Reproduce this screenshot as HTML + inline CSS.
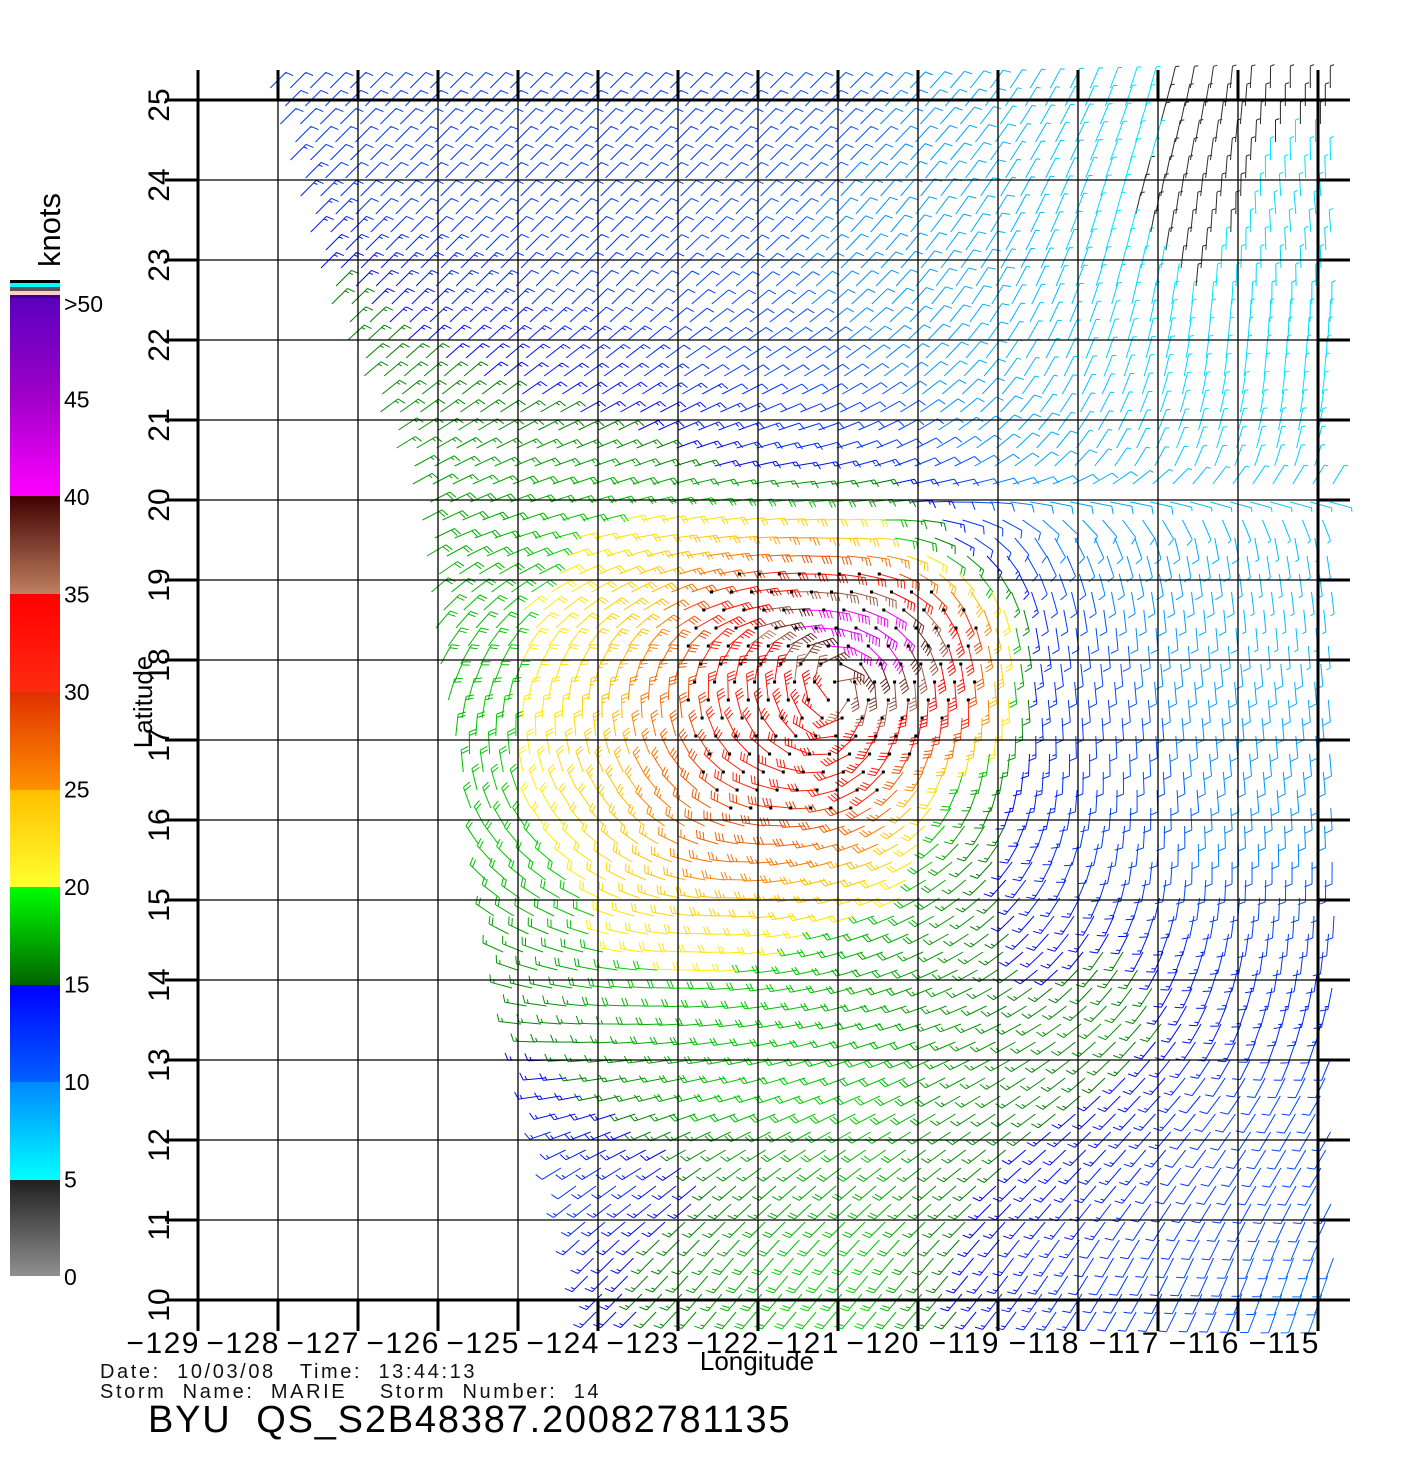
<!DOCTYPE html>
<html><head><meta charset="utf-8"><style>
html,body{margin:0;padding:0;background:#fff;}
svg{display:block;font-family:"Liberation Sans",sans-serif;}
.pre{white-space:pre;}
</style></head><body>
<svg id="chart" width="1420" height="1480" viewBox="0 0 1420 1480" xmlns="http://www.w3.org/2000/svg">
<defs>
<linearGradient id="g0" x1="0" y1="0" x2="0" y2="1"><stop offset="0" stop-color="#202020"/><stop offset="1" stop-color="#909090"/></linearGradient>
<linearGradient id="g5" x1="0" y1="0" x2="0" y2="1"><stop offset="0" stop-color="#0088ff"/><stop offset="1" stop-color="#00ffff"/></linearGradient>
<linearGradient id="g10" x1="0" y1="0" x2="0" y2="1"><stop offset="0" stop-color="#0000ff"/><stop offset="1" stop-color="#0060ff"/></linearGradient>
<linearGradient id="g15" x1="0" y1="0" x2="0" y2="1"><stop offset="0" stop-color="#00ff00"/><stop offset="1" stop-color="#006400"/></linearGradient>
<linearGradient id="g20" x1="0" y1="0" x2="0" y2="1"><stop offset="0" stop-color="#ffbf00"/><stop offset="1" stop-color="#ffff30"/></linearGradient>
<linearGradient id="g25" x1="0" y1="0" x2="0" y2="1"><stop offset="0" stop-color="#e03000"/><stop offset="1" stop-color="#ff9000"/></linearGradient>
<linearGradient id="g30" x1="0" y1="0" x2="0" y2="1"><stop offset="0" stop-color="#ff0000"/><stop offset="1" stop-color="#ff2a10"/></linearGradient>
<linearGradient id="g35" x1="0" y1="0" x2="0" y2="1"><stop offset="0" stop-color="#400000"/><stop offset="1" stop-color="#c08060"/></linearGradient>
<linearGradient id="g40" x1="0" y1="0" x2="0" y2="1"><stop offset="0" stop-color="#5a00c0"/><stop offset="0.5" stop-color="#a000c8"/><stop offset="1" stop-color="#ff00ff"/></linearGradient>
</defs>
<g id="barbs"></g>
<g id="grid"></g>
<g id="cbar">
<rect x="10" y="280" width="50" height="3" fill="#000"/>
<rect x="10" y="283" width="50" height="4" fill="#00ffff"/>
<rect x="10" y="287" width="50" height="4" fill="#555"/>
<rect x="10" y="291" width="50" height="4" fill="#ffcccc"/>
<rect x="10" y="295" width="50" height="3" fill="#400080"/>
<rect x="10" y="298" width="50" height="198" fill="url(#g40)"/>
<rect x="10" y="496" width="50" height="98" fill="url(#g35)"/>
<rect x="10" y="594" width="50" height="98" fill="url(#g30)"/>
<rect x="10" y="692" width="50" height="98" fill="url(#g25)"/>
<rect x="10" y="790" width="50" height="97" fill="url(#g20)"/>
<rect x="10" y="887" width="50" height="98" fill="url(#g15)"/>
<rect x="10" y="985" width="50" height="97" fill="url(#g10)"/>
<rect x="10" y="1082" width="50" height="98" fill="url(#g5)"/>
<rect x="10" y="1180" width="50" height="96" fill="url(#g0)"/>
<text transform="translate(60,230) rotate(-90)" text-anchor="middle" font-size="31">knots</text>
</g>
<g id="cbl" font-size="23"></g>
<g id="labels">
<text x="757" y="1370" font-size="26" text-anchor="middle">Longitude</text>
<text transform="translate(152,702) rotate(-90)" font-size="26" text-anchor="middle">Latitude</text>
<text class="pre" x="100" y="1378" font-size="20" fill="#111" letter-spacing="2.6">Date:  10/03/08   Time:  13:44:13</text>
<text class="pre" x="100" y="1398" font-size="20" fill="#111" letter-spacing="2.6">Storm  Name:  MARIE    Storm  Number:  14</text>
<text class="pre" x="148" y="1432" font-size="38" letter-spacing="1.8">BYU  QS_S2B48387.20082781135</text>
</g>
</svg>
<script>
// Data: cell centers lat 24.5..10.5 (rows), lon -128.5..-115.5 (cols)
const lats = [24.5,23.5,22.5,21.5,20.5,19.5,18.5,17.5,16.5,15.5,14.5,13.5,12.5,11.5,10.5];
const lons = [-128.5,-127.5,-126.5,-125.5,-124.5,-123.5,-122.5,-121.5,-120.5,-119.5,-118.5,-117.5,-116.5,-115.5];
const speeds = [
[12,12,12,12,12,12,12,11,10,8,7,5.5,4.5,5],
[16,13,12,12,12,12,11,10,9,8,7,5,4.5,5.5],
[16,16,14,13,12,12,11,10,9,8,7,6,5,6],
[16,16,16,15,14,13,12,11,10,8,7,6,5.5,5],
[16,17,17,17,17,16,14,13,12,10,8,7,6,6],
[17,17,18,18,20,22,24,26,22,13,10,9,8,7],
[17,17,18,19,21,24,33,42,44,34,13,10,8,7],
[17,17,18,19,21,26,31,34,36,33,13,11,9,8],
[17,17,18,19,21,25,30,32,31,19,13,11,10,9],
[17,17,18,19,20,23,27,27,24,17,13,12,10,10],
[17,17,17,17,18,21,21,20,18,17,14,15,13,12],
[16,16,16,16,16,18,19,19,18,17,16,17,14,13],
[14,14,14,13,14,16,19,20,20,17,16,14,12,11],
[13,13,13,12,12,13,15,17,18,16,14,13,12,11],
[12,12,12,12,13,15,17,20,20,15,13,12,11,10]
];
// direction wind blows toward, degrees (0=east, 90=north)
const dirs = [
[225,225,225,225,225,225,225,225,225,230,240,250,260,270],
[225,225,225,225,225,225,225,225,230,235,245,255,265,275],
[225,225,225,225,225,225,220,220,225,235,245,255,265,270],
[220,220,220,220,215,215,210,210,215,225,240,250,260,265],
[215,215,210,205,200,200,195,190,200,210,225,240,250,255],
[230,220,210,200,195,190,185,180,175,150,120,110,100,100],
[240,235,230,225,220,215,200,180,150,110,100,95,95,95],
[250,250,250,255,260,265,270,280,80,90,95,95,95,95],
[260,265,270,280,290,300,320,350,40,70,85,90,95,95],
[280,290,300,310,320,330,350,10,20,40,60,80,90,90],
[300,310,320,330,340,350,0,10,20,30,45,60,75,85],
[330,340,345,350,355,0,5,10,15,20,30,45,60,75],
[350,355,0,5,10,15,15,20,25,30,35,45,50,60],
[20,20,25,30,35,35,40,40,40,40,45,50,55,60],
[30,35,40,40,45,45,50,50,50,50,55,60,65,70]
];
const lonTicks = [-129,-128,-127,-126,-125,-124,-123,-122,-121,-120,-119,-118,-117,-116,-115];
const latTicks = [25,24,23,22,21,20,19,18,17,16,15,14,13,12,11,10];
const cbTicks = [0,5,10,15,20,25,30,35,40,45];
const cbTickLabels = ["0","5","10","15","20","25","30","35","40","45"];

const NS="http://www.w3.org/2000/svg";
const xOf = lon => 198 + (lon + 129) * 80;
const yOf = lat => 100 + (25 - lat) * 80;
const lonOf = x => (x - 198) / 80 - 129;
const latOf = y => 25 - (y - 100) / 80;
const cbY = v => 1276 - v * 19.5;

function mk(tag, attrs, parent){const e=document.createElementNS(NS,tag);for(const k in attrs)e.setAttribute(k,attrs[k]);parent.appendChild(e);return e;}

const grid=document.getElementById('grid');
lonTicks.forEach((lon,i)=>{
  const x=xOf(lon), edge=(i===0||i===lonTicks.length-1);
  const l1=mk('line',{x1:x,y1:100,x2:x,y2:1300,stroke:'#000','stroke-width':edge?3:1.3},grid);
  
  
  const t1=mk('line',{x1:x,y1:70,x2:x,y2:100,stroke:'#000','stroke-width':3},grid);
  
  
  const t2=mk('line',{x1:x,y1:1300,x2:x,y2:1331,stroke:'#000','stroke-width':3},grid);
  
  
  const tx=mk('text',{x:x+2,y:1353,'font-size':30,'text-anchor':'end','letter-spacing':1.5},grid);
  tx.textContent='\u2212'+Math.abs(lon);
  
  
});
latTicks.forEach((lat,i)=>{
  const y=yOf(lat), edge=(i===0||i===latTicks.length-1);
  const l1=mk('line',{x1:198,y1:y,x2:1318,y2:y,stroke:'#000','stroke-width':edge?3:1.3},grid);
  
  
  const t1=mk('line',{x1:165,y1:y,x2:198,y2:y,stroke:'#000','stroke-width':3},grid);
  
  
  const t2=mk('line',{x1:1318,y1:y,x2:1350,y2:y,stroke:'#000','stroke-width':3},grid);
  
  
  const tx=mk('text',{transform:`translate(169,${y+5}) rotate(-90)`,'font-size':30,'text-anchor':'middle'},grid);
  tx.textContent=String(lat);
  
  
});

const cbl=document.getElementById('cbl');
cbTicks.forEach((v,i)=>{
  const t=mk('text',{x:64,y:cbY(v)+9},cbl);
  t.textContent=cbTickLabels[i];
  
  
});
{const t=mk('text',{x:64,y:312},cbl);t.textContent='>50';

}

const stops=[[0,[136,136,136]],[5,[40,40,40]],[5.01,[0,230,255]],[10,[0,130,255]],[10.01,[0,90,255]],[15,[0,0,240]],[15.01,[0,120,0]],[20,[0,210,0]],[20.01,[255,240,0]],[25,[255,180,0]],[25.01,[255,140,0]],[30,[230,60,0]],[30.01,[255,40,10]],[35,[255,0,0]],[35.01,[190,120,90]],[40,[70,10,10]],[40.01,[255,0,255]],[50,[110,0,200]]];
function colorFor(s){
  if(s<=0)return 'rgb(136,136,136)';
  for(let i=1;i<stops.length;i++){if(s<=stops[i][0]){const a=stops[i-1],b=stops[i],t=(s-a[0])/(b[0]-a[0]);const c=a[1].map((v,k)=>Math.round(v+(b[1][k]-v)*t));return `rgb(${c})`;}}
  return 'rgb(100,0,200)';
}
function sample(lon,lat){
  let fc=lon-(-128.5), fr=24.5-lat;
  fc=Math.max(0,Math.min(lons.length-1.001,fc)); fr=Math.max(0,Math.min(lats.length-1.001,fr));
  const c=Math.floor(fc), r=Math.floor(fr), tc=fc-c, tr=fr-r;
  let s=0,u=0,v=0;
  [[r,c,(1-tr)*(1-tc)],[r,c+1,(1-tr)*tc],[r+1,c,tr*(1-tc)],[r+1,c+1,tr*tc]].forEach(([rr,cc,w])=>{
    s+=speeds[rr][cc]*w; const a=dirs[rr][cc]*Math.PI/180; u+=Math.cos(a)*w; v+=Math.sin(a)*w;
  });
  return [s, Math.atan2(v,u)];
}
const edgeY=[80,300,500,660,900,1060,1200,1320];
const edgeX=[268,330,420,440,490,530,570,598];
function leftEdge(y){for(let i=1;i<edgeY.length;i++){if(y<=edgeY[i]){const t=(y-edgeY[i-1])/(edgeY[i]-edgeY[i-1]);return edgeX[i-1]+t*(edgeX[i]-edgeX[i-1]);}}return edgeX[edgeX.length-1];}

const barbs=document.getElementById('barbs');
const dotsPath=[];
const byColor={};
let row=0;
for(let y=88;y<=1322;y+=18,row++){
  const xl=leftEdge(y);
  for(let x=xl+((row%2)*10);x<=1334;x+=20){
    const [s,ang]=sample(lonOf(x),latOf(y));
    const sa=ang+Math.PI;
    const L=s>=30?26:22;
    const dx=Math.cos(sa), dy=-Math.sin(sa);
    const ex=x+dx*L, ey=y+dy*L;
    let d=`M${x.toFixed(1)} ${y.toFixed(1)}L${ex.toFixed(1)} ${ey.toFixed(1)}`;
    const ba=sa-1.2; const bx=Math.cos(ba)*8, by=-Math.sin(ba)*8;
    let n=Math.round(s/5), pos=0;
    while(n>=2){const px=ex-dx*pos,py=ey-dy*pos;d+=`M${px.toFixed(1)} ${py.toFixed(1)}l${bx.toFixed(1)} ${by.toFixed(1)}`;n-=2;pos+=3.5;}
    if(n===1){const px=ex-dx*pos,py=ey-dy*pos;d+=`M${px.toFixed(1)} ${py.toFixed(1)}l${(bx/2).toFixed(1)} ${(by/2).toFixed(1)}`;}
    const col=colorFor(s);
    (byColor[col]=byColor[col]||[]).push(d);
    if(s>=29)dotsPath.push(`M${(x-1.5).toFixed(1)} ${(y-1.5).toFixed(1)}h3v3h-3z`);
  }
}
for(const col in byColor){
  const p=mk('path',{d:byColor[col].join(''),stroke:col,'stroke-width':1,fill:'none'},barbs);
  
  
}
const dp=mk('path',{d:dotsPath.join(''),fill:'#000'},barbs);


</script>
</body></html>
